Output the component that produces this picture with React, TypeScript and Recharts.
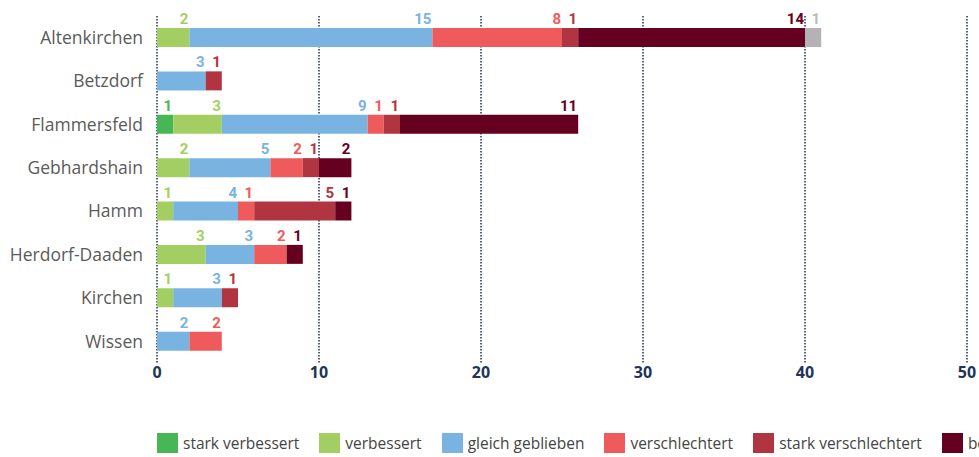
import { BarChart, Bar, XAxis, YAxis, CartesianGrid, Legend, LabelList } from 'recharts';

const categories = ['Altenkirchen', 'Betzdorf', 'Flammersfeld', 'Gebhardshain', 'Hamm', 'Herdorf-Daaden', 'Kirchen', 'Wissen'];
const starkVerbessert = [0, 0, 1, 0, 0, 0, 0, 0];
const verbessert = [2, 0, 3, 2, 1, 3, 1, 0];
const gleichGeblieben = [15, 3, 9, 5, 4, 3, 3, 2];
const verschlechtert = [8, 0, 1, 2, 1, 2, 0, 2];
const starkVerschlechtert = [1, 1, 1, 1, 5, 0, 1, 0];
const beseitigt = [14, 0, 11, 2, 1, 1, 0, 0];
const ohneBewertung = [1, 0, 0, 0, 0, 0, 0, 0];
const xTicks = [0, 10, 20, 30, 40, 50];

const series = [
  { key: 'sv', name: 'stark verbessert', values: starkVerbessert, color: '#47b756', label: '#47b756' },
  { key: 'v', name: 'verbessert', values: verbessert, color: '#a3cf62', label: '#a3cf62' },
  { key: 'g', name: 'gleich geblieben', values: gleichGeblieben, color: '#79b3e1', label: '#79b3e1' },
  { key: 'vs', name: 'verschlechtert', values: verschlechtert, color: '#ef5b5d', label: '#ef5b5d' },
  { key: 'svs', name: 'stark verschlechtert', values: starkVerschlechtert, color: '#b13541', label: '#b13541' },
  { key: 'b', name: 'beseitigt', values: beseitigt, color: '#660020', label: '#660020' },
  { key: 'o', name: 'ohne Bewertung', values: ohneBewertung, color: '#b3b3b6', label: '#b9b9bc' },
];

const data = categories.map((c, i) => {
  const row: Record<string, string | number> = { name: c };
  series.forEach(s => { row[s.key] = s.values[i]; });
  return row;
});

function segLabel(color: string) {
  return (props: any) => {
    const { x, y, width, value } = props;
    if (!value) return null;
    return (
      <text x={x + width - 1} y={y - 4} textAnchor="end" fill={color}
        fontFamily="Roboto, sans-serif" fontWeight="bold" fontSize={15}>
        {value}
      </text>
    );
  };
}

function LegendRow() {
  return (
    <div style={{ display: 'flex', whiteSpace: 'nowrap', paddingLeft: 149, paddingTop: 30, height: 54, boxSizing: 'border-box' }}>
      {series.map(s => (
        <div key={s.key} style={{ display: 'flex', alignItems: 'center', marginRight: 20, height: 20 }}>
          <span style={{ width: 21, height: 20, background: s.color, display: 'inline-block', marginRight: 5 }} />
          <span style={{ fontFamily: '"Open Sans", sans-serif', fontSize: 15.5, color: '#444' }}>{s.name}</span>
        </div>
      ))}
    </div>
  );
}

export default function App() {
  return (
    <div style={{ width: 979, height: 457, padding: '8px 0 0 8px', boxSizing: 'border-box', overflow: 'hidden' }}>
      <style>{'body{margin:0;overflow:hidden}'}</style>
      <BarChart width={971} height={449} data={data} layout="vertical"
        margin={{ top: 8, right: 12, bottom: 0, left: 0 }} barSize={19}>
        <CartesianGrid horizontal={false} stroke="#1d3050" strokeDasharray="1.5 1.5" strokeWidth={1.5} />
        <XAxis type="number" domain={[0, 50]} ticks={xTicks} axisLine={false} tickLine={false}
          tickSize={2} tickMargin={2} height={40}
          tick={{ fontSize: 16, fontWeight: 'bold', fill: '#1d3557', fontFamily: '"Open Sans", sans-serif' }} />
        <YAxis type="category" dataKey="name" width={149} axisLine={false} tickLine={false} tickMargin={8}
          tick={{ fontSize: 17.5, fill: '#5a5a5a', fontFamily: '"Open Sans", sans-serif' }} />
        <Legend verticalAlign="bottom" height={54} content={() => <LegendRow />} />
        {series.map(s => (
          <Bar key={s.key} dataKey={s.key} name={s.name} stackId="a" fill={s.color} isAnimationActive={false}>
            <LabelList dataKey={s.key} content={segLabel(s.label)} />
          </Bar>
        ))}
      </BarChart>
    </div>
  );
}
